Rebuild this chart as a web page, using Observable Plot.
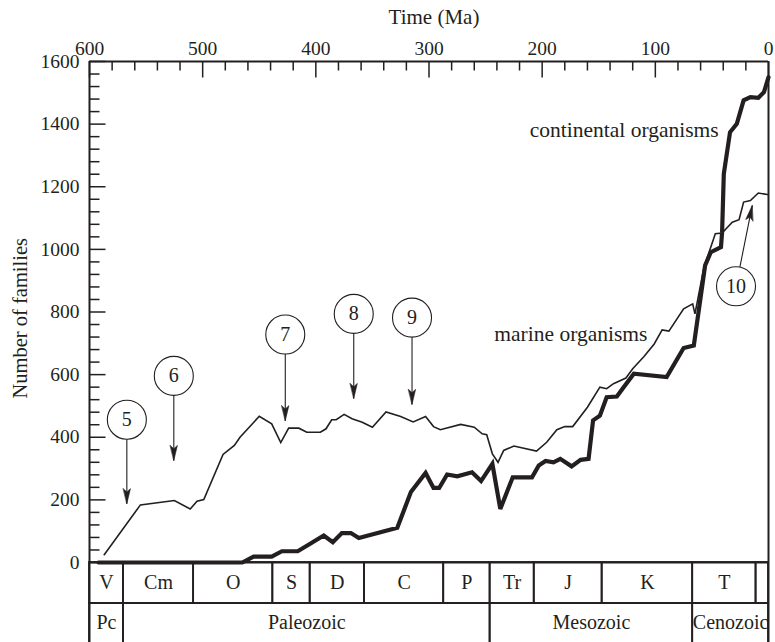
<!DOCTYPE html>
<html><head><meta charset="utf-8">
<script src="https://cdn.jsdelivr.net/npm/d3@7"></script>
<script src="https://cdn.jsdelivr.net/npm/@observablehq/plot@0.6"></script>
<style>body{margin:0;background:#fff}</style>
</head><body><div id="chart"></div>
<script>
// ---- data ----
const marineAge = [587,555,525,511,505,499,482,472,467,450,439,431,424,415,408,396,391,386,382,375,368,359,350,338,325,314,303,296,290,272,260,253,249,244,239,234,225,205,196,187,180,173,160,149,143,137,126,120,110,101,94,88,75,67,65,57,47,41,32,26,22,16,9,1];
const marineFamilies = [25,184,198,171,196,201,345,374,400,467,443,383,429,429,416,416,427,456,456,473,459,448,432,481,466,449,466,434,424,441,432,411,408,347,320,358,372,356,384,424,434,434,496,560,555,571,589,619,658,698,743,739,810,826,794,943,1050,1052,1087,1095,1151,1156,1180,1175];
const contAge = [592,465,455,439,430,416,405,393,385,377,369,362,328,316,303,296,291,284,275,262,254,244,237,226,209,203,197,190,184,174,166,159,155,149,143,134,128,119,90,75,66,56,51,42,41,39.5,34,28,22,16,9,4,0];
const contFamilies = [0,0,19,19,36,36,60,86,65,94,94,78,111,225,286,238,238,281,275,288,260,315,171,272,272,310,324,320,331,307,328,331,454,469,528,530,560,603,592,685,693,949,991,1007,1055,1241,1374,1401,1476,1486,1484,1502,1550];

const periodNames = ["V","Cm","O","S","D","C","P","Tr","J","K","T",""];
const periodStart = [600,570,508,438,405,357,287,246,207,147,67,11];
const periodEnd   = [570,508,438,405,357,287,246,207,147,67,11,0];
const eraNames = ["Pc","Paleozoic","Mesozoic","Cenozoic"];
const eraStart = [600,570,246,67];
const eraEnd   = [570,246,67,0];

const noteLabels = ["5","6","7","8","9","10"];
const noteAge = [567,525.5,427,366.5,315,28.7];
const noteFamilies = [456,596,728,794,782,882];
const tipAge = [567,525.5,427,366.5,315,14.4];
const tipFamilies = [188,326,453,524,505,1140];

const xMajor = [600,500,400,300,200,100,0];
const xMinor = d3.range(0,601,20);
const yMajor = [0,200,400,600,800,1000,1200,1400,1600];
const yMinor = d3.range(0,1601,40);

// ---- layout ----
const ink = "#231f20";
const W = 775, H = 642, mT = 61, mL = 89, mR = 7, mB = 0;
const xDomain = [600,0], yDomain = [-255.5,1600];
const rowSplit = -131, rowBottom = -320;
const sx = d3.scaleLinear(xDomain, [mL, W - mR]);
const sy = d3.scaleLinear(yDomain, [H - mB, mT]);
const xTickEnd = len => sy.invert(mT + len);
const yTickEnd = len => sx.invert(mL + len);

const marine = marineAge.map((t,i)=>({t, v: marineFamilies[i]}));
const cont = contAge.map((t,i)=>({t, v: contFamilies[i]}));
const periods = periodNames.map((n,i)=>({n, a: periodStart[i], b: periodEnd[i]}));
const eras = eraNames.map((n,i)=>({n, a: eraStart[i], b: eraEnd[i]}));
const notes = noteLabels.map((n,i)=>{
  const dx = sx(tipAge[i]) - sx(noteAge[i]);
  const dy = sy(tipFamilies[i]) - sy(noteFamilies[i]);
  return {n, t: noteAge[i], v: noteFamilies[i], tt: tipAge[i], tv: tipFamilies[i],
          ang: Math.atan2(dx, -dy) * 180 / Math.PI};
});
const xTicks = xMinor.map(t => ({t, len: xMajor.includes(t) ? 16 : 9}));
const yTicks = yMinor.map(v => ({v, len: yMajor.includes(v) ? 16 : 10}));

const headShape = {
  draw(ctx, l) {
    const w = 3.6;
    ctx.moveTo(0, -l);
    ctx.lineTo(-w, 0);
    ctx.lineTo(0, -l * 0.22);
    ctx.lineTo(w, 0);
    ctx.closePath();
  }
};

const chart = Plot.plot({
  width: W, height: H,
  marginTop: mT, marginLeft: mL, marginRight: mR, marginBottom: mB,
  style: {fontFamily: "'Liberation Serif', 'DejaVu Serif', serif", fontSize: "19.5px", color: ink, background: "#fff"},
  x: {domain: xDomain, axis: null},
  y: {domain: yDomain, axis: null},
  marks: [
    // inward tick marks
    Plot.link(xTicks, {x1: "t", x2: "t", y1: 1600, y2: d => xTickEnd(d.len), stroke: ink, strokeWidth: 1.5}),
    Plot.link(yTicks, {y1: "v", y2: "v", x1: 600, x2: d => yTickEnd(d.len), stroke: ink, strokeWidth: 1.5}),
    // tick labels as plain text marks
    Plot.text(xMajor, {x: d => d, text: d => String(d), frameAnchor: "top", lineAnchor: "bottom", textAnchor: "middle", dy: -7, fill: ink}),
    Plot.text(yMajor, {y: d => d, text: d => String(d), frameAnchor: "left", lineAnchor: "middle", textAnchor: "end", dx: -10, fill: ink}),
    Plot.text(["Time (Ma)"], {frameAnchor: "top", dy: -44, dx: 5, lineAnchor: "middle", textAnchor: "middle", fill: ink, fontSize: 21}),
    Plot.text(["Number of families"], {frameAnchor: "left", y: [780], dx: -69, rotate: -90, lineAnchor: "middle", textAnchor: "middle", fill: ink, fontSize: 20.5}),
    // period table
    Plot.rect(periods, {x1: "a", x2: "b", y1: 0, y2: rowSplit, fill: "none", stroke: ink, strokeWidth: 1.8}),
    Plot.rect(eras, {x1: "a", x2: "b", y1: rowSplit, y2: rowBottom, fill: "none", stroke: ink, strokeWidth: 1.8}),
    Plot.text(periods, {x: d => (d.a + d.b) / 2, y: rowSplit / 2, text: "n", fill: ink, lineAnchor: "middle", fontSize: 20}),
    Plot.text(eras, {x: d => (d.a + d.b) / 2, y: (rowSplit + yDomain[0]) / 2, text: "n", fill: ink, lineAnchor: "middle", fontSize: 20}),
    // frame
    Plot.ruleX([600, 0], {stroke: ink, strokeWidth: 2}),
    Plot.ruleY([1600, 0], {stroke: ink, strokeWidth: 2}),
    // series
    Plot.line(marine, {x: "t", y: "v", stroke: ink, strokeWidth: 1.6, strokeLinejoin: "miter", strokeMiterlimit: 4}),
    Plot.line(cont, {x: "t", y: "v", stroke: ink, strokeWidth: 4.2, strokeLinejoin: "miter", strokeMiterlimit: 3}),
    Plot.text(["continental organisms"], {x: [44], y: [1380], textAnchor: "end", lineAnchor: "middle", fill: ink, fontSize: 21.5}),
    Plot.text(["marine organisms"], {x: [107], y: [730], textAnchor: "end", lineAnchor: "middle", fill: ink, fontSize: 21.5}),
    // annotations
    Plot.link(notes, {x1: "t", y1: "v", x2: "tt", y2: "tv", stroke: ink, strokeWidth: 1.1}),
    Plot.vector(notes, {x: "tt", y: "tv", rotate: "ang", length: 15, anchor: "end", shape: headShape, fill: ink, stroke: ink, strokeWidth: 0.6}),
    Plot.dot(notes, {x: "t", y: "v", r: 19.5, fill: "white", stroke: ink, strokeWidth: 1.1}),
    Plot.text(notes, {x: "t", y: "v", text: "n", fill: ink, lineAnchor: "middle", fontSize: 20})
  ]
});
document.getElementById("chart").appendChild(chart);
</script>
</body></html>
